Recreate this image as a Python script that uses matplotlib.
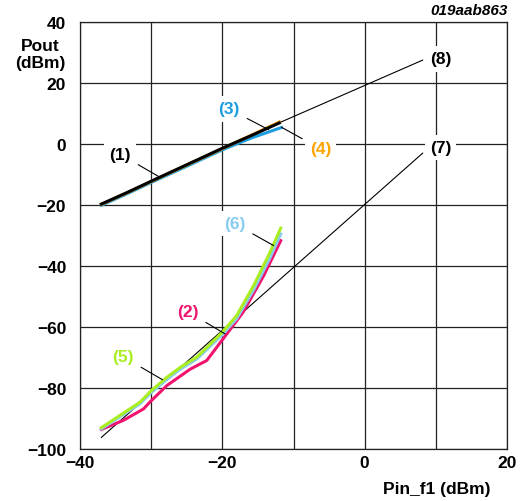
import matplotlib.pyplot as plt

plt.rcParams['font.family'] = ['Liberation Sans', 'DejaVu Sans']
plt.rcParams['font.weight'] = 'bold'

# fundamental tone, output power vs input power
fund_x = [-37, -33, -30, -25, -20, -16, -12]
fund_y1 = [-19.7, -15.5, -12.2, -6.8, -1.4, 2.7, 6.9]
fund_x3 = [-37, -33, -30, -25, -20, -16, -11.7]
fund_y3 = [-20.1, -15.9, -12.6, -7.3, -1.9, 1.9, 5.4]
fund_y4 = [-19.8, -15.6, -12.3, -6.9, -1.5, 2.8, 7.2]

# intermodulation products
im_x2 = [-37, -33.9, -31.1, -30, -27.8, -24.5, -22.2, -19.9, -17.1, -14.2, -11.8]
im_y2 = [-93.6, -90.6, -86.9, -84.2, -79.2, -73.8, -71.0, -63.9, -55.2, -43.2, -31.7]
im_x5 = [-37, -31.6, -30, -27.8, -25.9, -23.6, -20, -18, -15.6, -13.3, -11.8]
im_y5 = [-93.0, -84.7, -80.9, -76.5, -73.2, -69.9, -61.7, -56.3, -46.4, -35.5, -27.6]
im_y6 = [-93.4, -85.2, -81.5, -77.2, -73.8, -70.5, -62.5, -57.3, -47.8, -37.3, -29.5]

# extrapolated lines
ext_x8 = [-20, 8.15]
ext_y8 = [-1.2, 27.5]
ext_x7 = [-37, 8.15]
ext_y7 = [-96.2, -3.0]

xticks = [-40, -20, 0, 20]
yticks = [40, 20, 0, -20, -40, -60, -80, -100]

BLACK = '#000000'
PINK = '#f0146e'
GREEN = '#aaee22'
LBLUE = '#88ccf0'
BLUE = '#1e9ee0'
ORANGE = '#ffa500'

FS = 12.5

fig = plt.figure(figsize=(5.22, 5.02), dpi=100)
ax = fig.add_axes([0.1533, 0.1036, 0.8180, 0.8506])
ax.set_xlim(-40, 20)
ax.set_ylim(-100, 40)
ax.set_xticks(xticks)
ax.set_yticks(yticks)
ax.set_xticks(range(-30, 20, 10), minor=True)
ax.tick_params(which='both', length=0, labelsize=FS)
ax.tick_params(axis='y', pad=10)
ax.tick_params(axis='x', pad=4)
ax.grid(True, which='both', color='#222222', lw=0.9)
ax.set_axisbelow(True)
for s in ax.spines.values():
    s.set_color('#222222')
    s.set_linewidth(0.9)

ax.plot(ext_x7, ext_y7, color=BLACK, lw=0.8, zorder=3)
ax.plot(ext_x8, ext_y8, color=BLACK, lw=0.8, zorder=3)

ax.plot(im_x2, im_y2, color=PINK, lw=2.2, zorder=4)
ax.plot(im_x5, im_y6, color=LBLUE, lw=2.2, zorder=4)
ax.plot(im_x5, im_y5, color=GREEN, lw=2.2, zorder=5)

ax.plot(fund_x3, fund_y3, color=BLUE, lw=2.2, zorder=4)
ax.plot(fund_x, fund_y4, color=ORANGE, lw=2.2, zorder=4)
ax.plot(fund_x, fund_y1, color=BLACK, lw=2.2, zorder=5)

box = dict(boxstyle='square,pad=0.3', fc='white', ec='none')
labels = [
    ('(1)', BLACK, (-29.0, -10.6), (-34.4, -3.3)),
    ('(3)', BLUE, (-13.5, 4.7), (-19.1, 11.5)),
    ('(4)', ORANGE, (-11.7, 5.5), (-6.2, -1.6)),
    ('(6)', LBLUE, (-12.8, -33.3), (-18.3, -26.1)),
    ('(2)', PINK, (-19.6, -62.3), (-24.9, -54.9)),
    ('(5)', GREEN, (-28.4, -77.3), (-34.0, -69.7)),
    ('(7)', BLACK, None, (10.65, -1.1)),
    ('(8)', BLACK, None, (10.65, 27.9)),
]
for txt, col, tip, pos in labels:
    if tip is None:
        ax.text(*pos, txt, color=col, fontsize=FS, ha='center', va='center',
                bbox=box, zorder=6)
    else:
        ax.annotate(txt, xy=tip, xytext=pos, color=col, fontsize=FS,
                    ha='center', va='center', bbox=box, zorder=6,
                    arrowprops=dict(arrowstyle='-', color=BLACK, lw=0.8,
                                    shrinkA=2, shrinkB=0))

fig.text(0.0766, 0.922, 'Pout\n(dBm)', ha='center', va='top', fontsize=FS,
         linespacing=1.15, multialignment='center')
fig.text(0.939, 0.01, 'Pin_f1 (dBm)', ha='right', va='bottom', fontsize=FS)
fig.text(0.973, 0.964, '019aab863', ha='right', va='bottom', fontsize=11,
         style='italic')

fig.savefig('out.png', dpi=100)
